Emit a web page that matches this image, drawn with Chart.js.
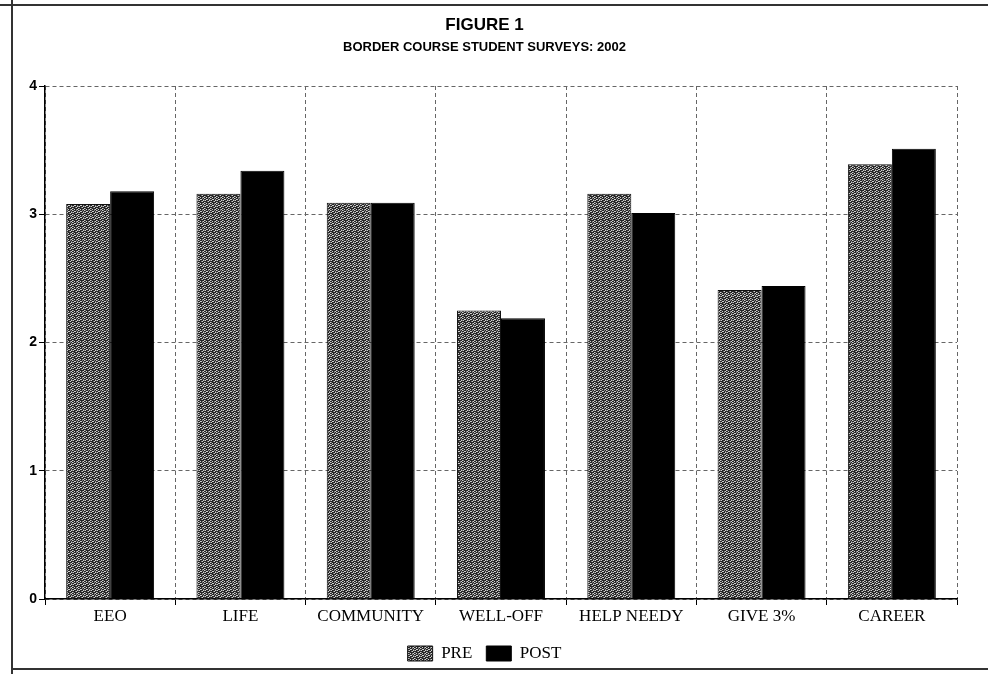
<!DOCTYPE html>
<html>
<head>
<meta charset="utf-8">
<script src="https://cdn.jsdelivr.net/npm/chart.js@4.4.1/dist/chart.umd.min.js"></script>
<style>
  html, body { margin: 0; padding: 0; background: #fff; }
  #wrap { width: 988px; height: 674px; position: relative; }
</style>
</head>
<body>
<div id="wrap"><canvas id="c" width="988" height="674"></canvas></div>
<script>
const categories = ["EEO", "LIFE", "COMMUNITY", "WELL-OFF", "HELP NEEDY", "GIVE 3%", "CAREER"];
const preValues  = [3.08, 3.16, 3.09, 2.25, 3.16, 2.41, 3.39];
const postValues = [3.18, 3.34, 3.09, 2.19, 3.01, 2.44, 3.51];
const seriesNames = ["PRE", "POST"];
const titleText = "FIGURE 1";
const subtitleText = "BORDER COURSE STUDENT SURVEYS: 2002";

function makePattern() {
  const t = document.createElement('canvas');
  t.width = 6; t.height = 6;
  const g = t.getContext('2d');
  g.fillStyle = '#262626';
  g.fillRect(0, 0, 6, 6);
  const light = [[0,0],[3,1],[1,2],[4,3],[0,4],[2,5],[5,5],[2,1],[5,2]];
  g.fillStyle = '#d0d0d0';
  light.forEach(p => g.fillRect(p[0], p[1], 1, 1));
  const mid = [[1,0],[4,0],[0,2],[3,3],[1,4],[4,5],[5,1]];
  g.fillStyle = '#808080';
  mid.forEach(p => g.fillRect(p[0], p[1], 1, 1));
  return g.createPattern(t, 'repeat');
}
const prePattern = makePattern();

const framePlugin = {
  id: 'frame',
  beforeDraw(chart) {
    const ctx = chart.ctx;
    ctx.save();
    ctx.fillStyle = '#fff';
    ctx.fillRect(0, 0, chart.width, chart.height);
    ctx.strokeStyle = '#333';
    ctx.lineWidth = 2;
    ctx.beginPath();
    ctx.moveTo(0, 5); ctx.lineTo(chart.width, 5);
    ctx.moveTo(12, 0); ctx.lineTo(12, chart.height);
    ctx.moveTo(12, 669); ctx.lineTo(chart.width, 669);
    ctx.stroke();
    ctx.restore();
  }
};

new Chart(document.getElementById('c'), {
  type: 'bar',
  data: {
    labels: categories,
    datasets: [
      { label: seriesNames[0], data: preValues, backgroundColor: prePattern, borderColor: '#111', borderWidth: 1,
        categoryPercentage: 0.675, barPercentage: 1.0 },
      { label: seriesNames[1], data: postValues, backgroundColor: '#000', borderColor: '#000', borderWidth: 1,
        categoryPercentage: 0.675, barPercentage: 1.0 }
    ]
  },
  plugins: [framePlugin],
  options: {
    responsive: false,
    animation: false,
    devicePixelRatio: 1,
    layout: { padding: { left: 12, right: 31, top: 0, bottom: 2 } },
    plugins: {
      title: {
        display: true, text: titleText, color: '#000',
        font: { family: 'Arial, "Liberation Sans", sans-serif', size: 17, weight: 'bold' },
        padding: { top: 15, bottom: 0 }
      },
      subtitle: {
        display: true, text: subtitleText, color: '#000',
        font: { family: 'Arial, "Liberation Sans", sans-serif', size: 13, weight: 'bold' },
        padding: { top: 4, bottom: 31 }
      },
      legend: {
        position: 'bottom',
        labels: {
          color: '#000',
          boxWidth: 25, boxHeight: 15,
          padding: 14,
          font: { family: '"Liberation Serif", "Times New Roman", serif', size: 17 }
        }
      },
      tooltip: { enabled: false }
    },
    scales: {
      x: {
        afterFit(scale) { scale.height = 32; },
        grid: {
          display: true, offset: true, color: '#666', lineWidth: 1,
          drawTicks: true, tickLength: 6, tickColor: '#000', tickBorderDash: []
        },
        border: { display: true, color: '#000', width: 1.5, dash: [4, 3] },
        ticks: {
          color: '#000', padding: 1, maxRotation: 0, autoSkip: false,
          font: { family: '"Liberation Serif", "Times New Roman", serif', size: 17 }
        }
      },
      y: {
        min: 0, max: 4,
        afterFit(scale) { scale.width = 33; },
        grid: {
          color: '#666', lineWidth: 1,
          drawTicks: true, tickLength: 6, tickColor: '#000', tickBorderDash: []
        },
        border: { display: true, color: '#000', width: 1.5, dash: [4, 3] },
        ticks: {
          stepSize: 1, color: '#000', padding: 2,
          font: { family: 'Arial, "Liberation Sans", sans-serif', size: 14, weight: 'bold' }
        }
      }
    }
  }
});
</script>
</body>
</html>
